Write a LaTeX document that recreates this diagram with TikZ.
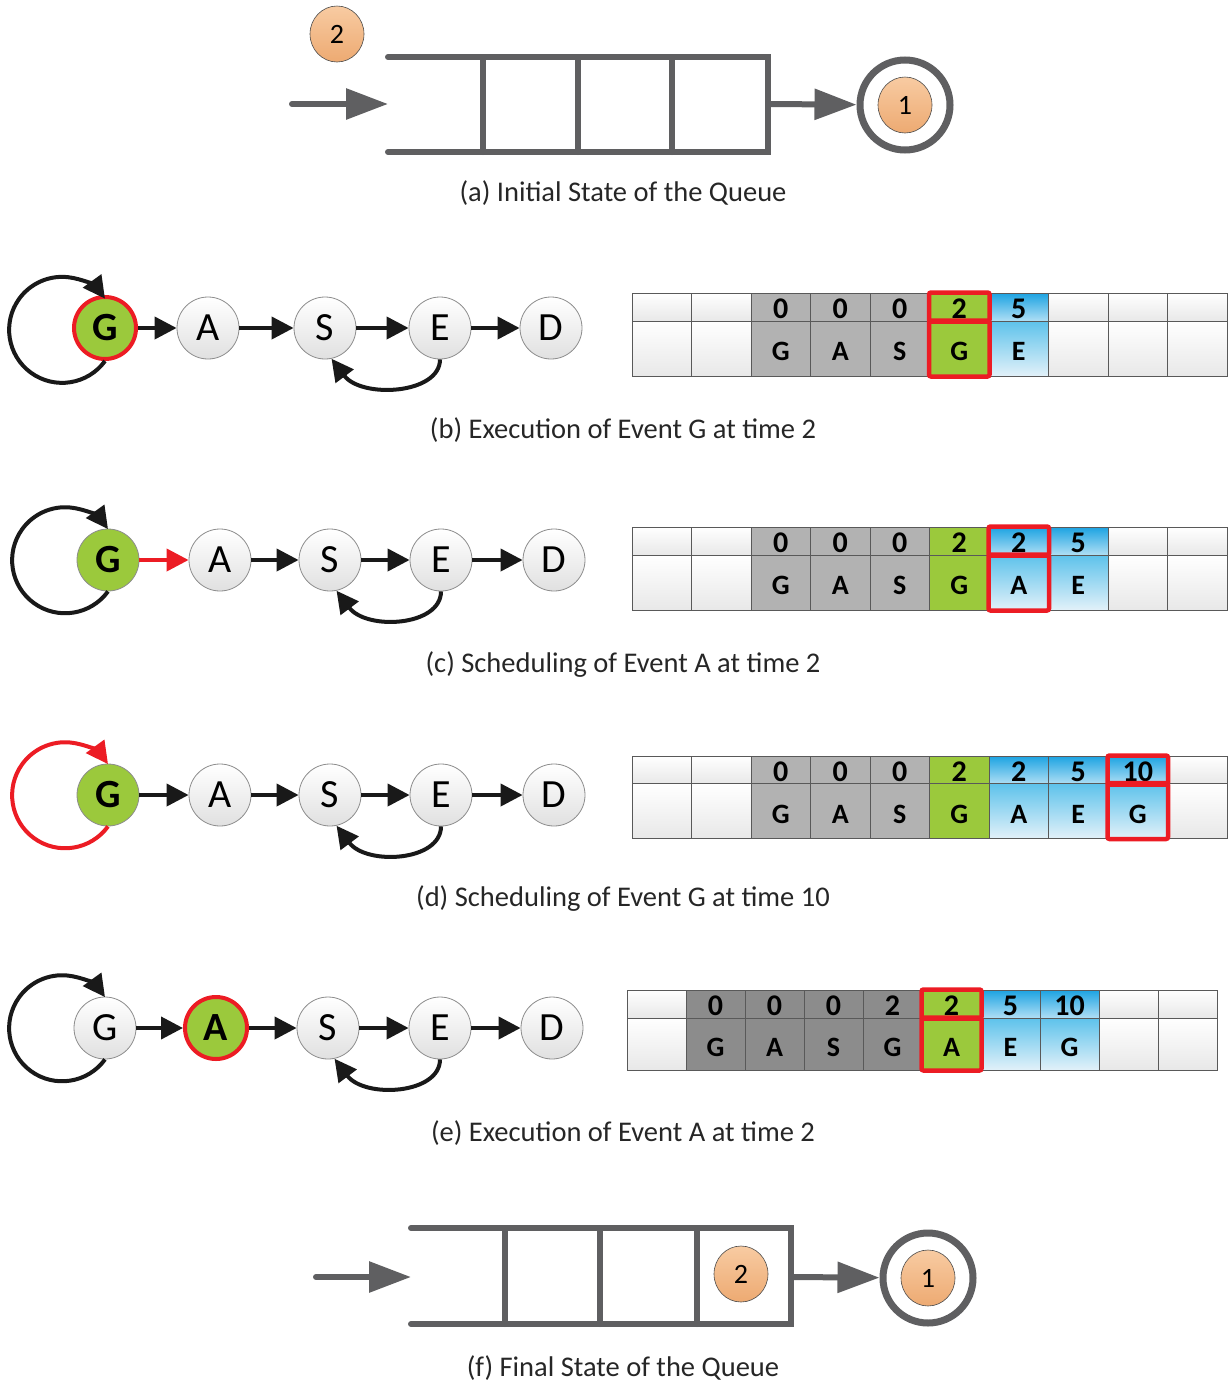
\documentclass[tikz,border=0pt]{standalone}
\usepackage{fontspec}
\setmainfont{Carlito}
\usetikzlibrary{arrows.meta, shapes.geometric, positioning}

\definecolor{qgray}{HTML}{5F5F61}
\definecolor{evgreen}{HTML}{9BC93C}
\definecolor{evred}{HTML}{EC1C24}
\definecolor{peachtop}{HTML}{F8CBA2}
\definecolor{peachbot}{HTML}{EDAA72}
\definecolor{bluedark}{HTML}{1CA3E2}
\definecolor{bluemid}{HTML}{5DC2EB}
\definecolor{bluepale}{HTML}{E2F1F9}

\begin{document}
\begin{tikzpicture}[
        x=1pt, y=-1pt,
        >={Triangle[length=22pt, width=22pt]},
        % queue
        qline/.style={qgray, line width=6pt, line cap=round, line join=miter},
        qarrow/.style={-{Triangle[length=42pt, width=30pt]}, qgray, line width=6pt, line cap=round},
        ring/.style={circle, draw=qgray, line width=7pt, minimum size=90pt, inner sep=0pt},
        job/.style={ellipse, draw=black!70, line width=0.6pt, top color=peachtop, bottom color=peachbot, minimum width=54pt, minimum height=56pt, inner sep=0pt, font=\fontsize{28}{28}\selectfont},
        % event graph
        evbase/.style={circle, minimum size=62pt, inner sep=0pt, font=\fontsize{40}{40}\selectfont},
        ev/.style={evbase, draw=black!45, line width=0.8pt, top color=white, bottom color=black!12},
        evon/.style={evbase, draw=black!45, line width=0.8pt, fill=evgreen, font=\fontsize{40}{40}\selectfont\bfseries},
        evnow/.style={evon, draw=evred, line width=4pt},
        link/.style={->, black!90, line width=4pt},
        hot/.style={link, evred},
        % event list table
        cell/.style={rectangle, draw=black!65, line width=1pt, minimum width=59.5pt, inner sep=0pt, text depth=0pt},
        trow/.style={minimum height=28pt, text height=22pt, font=\fontsize{30}{30}\selectfont\bfseries},
        brow/.style={minimum height=55pt, text height=24pt, font=\fontsize{28}{28}\selectfont\bfseries},
        top-w/.style={top color=white, bottom color=black!9},
        bot-w/.style={top color=white, bottom color=black!9},
        top-g/.style={fill=black!30},
        bot-g/.style={fill=black!30},
        top-d/.style={fill=black!45},
        bot-d/.style={fill=black!45},
        top-n/.style={fill=evgreen},
        bot-n/.style={fill=evgreen},
        top-b/.style={top color=bluedark, bottom color=bluedark!35},
        bot-b/.style={top color=bluemid, bottom color=bluepale},
        hl/.style={draw=evred, line width=4.5pt, rounded corners=2pt},
        subcap/.style={font=\fontsize{28.5}{30}\selectfont, text=black!85}
    ]
        \useasboundingbox (0,0) rectangle (1230,1384);

        % (a) empty queue, job 2 waiting, job 1 in service
        \draw[qline] (388,57) -- (768,57) -- (768,152) -- (388,152);
        \foreach \x in {483,578,672}
            \draw[qline] (\x,57) -- (\x,152);
        \node[job] (qa-two) at (337,34) {2};
        \node[ring] (qa-ring) at (905,105) {};
        \node[job] (qa-one) at (qa-ring) {1};
        \coordinate (qa-in) at (292,104);
        \coordinate (qa-mouth) at (388,104);
        \coordinate (qa-exit) at (768,104);
        \draw[qarrow] (qa-in) -- (qa-mouth);
        \draw[qarrow] (qa-exit) -- (qa-ring);
        \node[subcap] (cap-a) at (623,193) {(a) Initial State of the Queue};

        % (b) G executes
        \node[evnow] (b-G) at (105,328) {G};
        \node[ev] (b-A) at (208,328) {A};
        \node[ev] (b-S) at (325,328) {S};
        \node[ev] (b-E) at (440,328) {E};
        \node[ev] (b-D) at (551,328) {D};
        \draw[link] (b-G) -- (b-A);
        \draw[link] (b-A) -- (b-S);
        \draw[link] (b-S) -- (b-E);
        \draw[link] (b-E) -- (b-D);
        \draw[link] (b-G.south) arc[start angle=36, end angle=324, radius=53];
        \draw[link] (b-E.south) .. controls +(0,35) and +(30,40) .. (b-S.-78);

        \foreach \n/\l/\k [count=\i] in {{}/{}/w, {}/{}/w, 0/G/g, 0/A/g, 0/S/g, 2/G/n, 5/E/b, {}/{}/w, {}/{}/w, {}/{}/w} {
            \node[cell, trow, top-\k] (b-t\i) at ({632+59.5*(\i-0.5)}, 307) {\n};
            \node[cell, brow, bot-\k] (b-b\i) at ({632+59.5*(\i-0.5)}, 348.5) {\l};
        }
        \draw[hl] (b-t6.north west) rectangle (b-t6.south east);
        \draw[hl] (b-b6.north west) rectangle (b-b6.south east);
        \node[subcap] (cap-b) at (623,430) {(b) Execution of Event G at time 2};

        % (c) G schedules A
        \node[evon] (c-G) at (108,560) {G};
        \node[ev] (c-A) at (220,560) {A};
        \node[ev] (c-S) at (330,560) {S};
        \node[ev] (c-E) at (441,560) {E};
        \node[ev] (c-D) at (554,560) {D};
        \draw[hot] (c-G) -- (c-A);
        \draw[link] (c-A) -- (c-S);
        \draw[link] (c-S) -- (c-E);
        \draw[link] (c-E) -- (c-D);
        \draw[link] (c-G.south) arc[start angle=36, end angle=324, radius=53];
        \draw[link] (c-E.south) .. controls +(0,35) and +(30,40) .. (c-S.-78);

        \foreach \n/\l/\k [count=\i] in {{}/{}/w, {}/{}/w, 0/G/g, 0/A/g, 0/S/g, 2/G/n, 2/A/b, 5/E/b, {}/{}/w, {}/{}/w} {
            \node[cell, trow, top-\k] (c-t\i) at ({632+59.5*(\i-0.5)}, 541) {\n};
            \node[cell, brow, bot-\k] (c-b\i) at ({632+59.5*(\i-0.5)}, 582.5) {\l};
        }
        \draw[hl] (c-t7.north west) rectangle (c-t7.south east);
        \draw[hl] (c-b7.north west) rectangle (c-b7.south east);
        \node[subcap] (cap-c) at (623,665) {(c) Scheduling of Event A at time 2};

        % (d) G schedules itself
        \node[evon] (d-G) at (108,795) {G};
        \node[ev] (d-A) at (220,795) {A};
        \node[ev] (d-S) at (330,795) {S};
        \node[ev] (d-E) at (441,795) {E};
        \node[ev] (d-D) at (554,795) {D};
        \draw[link] (d-G) -- (d-A);
        \draw[link] (d-A) -- (d-S);
        \draw[link] (d-S) -- (d-E);
        \draw[link] (d-E) -- (d-D);
        \draw[hot] (d-G.south) arc[start angle=36, end angle=324, radius=53];
        \draw[link] (d-E.south) .. controls +(0,35) and +(30,40) .. (d-S.-78);

        \foreach \n/\l/\k [count=\i] in {{}/{}/w, {}/{}/w, 0/G/g, 0/A/g, 0/S/g, 2/G/n, 2/A/b, 5/E/b, 10/G/b, {}/{}/w} {
            \node[cell, trow, top-\k] (d-t\i) at ({632+59.5*(\i-0.5)}, 770) {\n};
            \node[cell, brow, bot-\k] (d-b\i) at ({632+59.5*(\i-0.5)}, 811) {\l};
        }
        \draw[hl] (d-t9.north west) rectangle (d-t9.south east);
        \draw[hl] (d-b9.north west) rectangle (d-b9.south east);
        \node[subcap] (cap-d) at (623,899) {(d) Scheduling of Event G at time 10};

        % (e) A executes
        \node[ev] (e-G) at (105,1028) {G};
        \node[evnow] (e-A) at (216,1028) {A};
        \node[ev] (e-S) at (328,1028) {S};
        \node[ev] (e-E) at (440,1028) {E};
        \node[ev] (e-D) at (552,1028) {D};
        \draw[link] (e-G) -- (e-A);
        \draw[link] (e-A) -- (e-S);
        \draw[link] (e-S) -- (e-E);
        \draw[link] (e-E) -- (e-D);
        \draw[link] (e-G.south) arc[start angle=36, end angle=324, radius=53];
        \draw[link] (e-E.south) .. controls +(0,35) and +(30,40) .. (e-S.-78);

        \foreach \n/\l/\k [count=\i] in {{}/{}/w, 0/G/d, 0/A/d, 0/S/d, 2/G/d, 2/A/n, 5/E/b, 10/G/b, {}/{}/w, {}/{}/w} {
            \node[cell, trow, top-\k, minimum width=59pt] (e-t\i) at ({627+59*(\i-0.5)}, 1004) {\n};
            \node[cell, brow, bot-\k, minimum width=59pt, minimum height=52pt] (e-b\i) at ({627+59*(\i-0.5)}, 1044) {\l};
        }
        \draw[hl] (e-t6.north west) rectangle (e-t6.south east);
        \draw[hl] (e-b6.north west) rectangle (e-b6.south east);
        \node[subcap] (cap-e) at (623,1133) {(e) Execution of Event A at time 2};

        % (f) job 2 queued, job 1 still in service
        \draw[qline] (411,1228) -- (791,1228) -- (791,1324) -- (411,1324);
        \foreach \x in {505,600,697}
            \draw[qline] (\x,1228) -- (\x,1324);
        \node[job] (qf-two) at (741,1274) {2};
        \node[ring] (qf-ring) at (928,1278) {};
        \node[job] (qf-one) at (qf-ring) {1};
        \coordinate (qf-in) at (316,1277);
        \coordinate (qf-mouth) at (411,1277);
        \coordinate (qf-exit) at (791,1277);
        \draw[qarrow] (qf-in) -- (qf-mouth);
        \draw[qarrow] (qf-exit) -- (qf-ring);
        \node[subcap] (cap-f) at (623,1368) {(f) Final State of the Queue};
    \end{tikzpicture}
\end{document}
